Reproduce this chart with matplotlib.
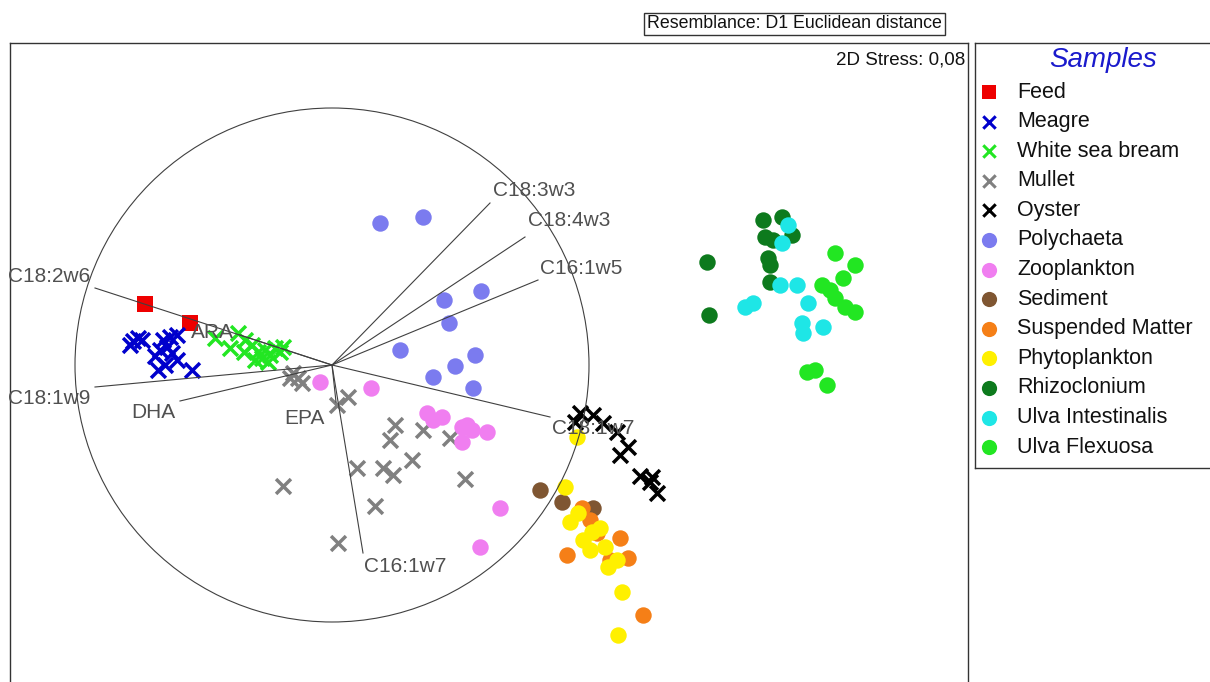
import matplotlib.pyplot as plt
from matplotlib.patches import Circle

plt.rcParams['font.family'] = ['Liberation Sans', 'DejaVu Sans']

# MDS ordination coordinates (screen units, y grows downward)
feed_x = [145, 190]
feed_y = [304, 323]
meagre_x = [133, 138, 130, 142, 163, 170, 177, 160, 167, 172, 158, 165, 177, 192, 155]
meagre_y = [341, 338, 345, 340, 340, 337, 335, 350, 347, 353, 370, 365, 360, 370, 356]
bream_x = [215, 230, 238, 245, 252, 258, 262, 265, 270, 275, 280, 283, 255, 268, 244]
bream_y = [338, 348, 333, 340, 345, 352, 358, 350, 355, 348, 352, 347, 360, 362, 352]
mullet_x = [293, 302, 298, 290, 348, 337, 395, 390, 423, 450, 357, 383, 393, 412, 465, 283, 375, 338]
mullet_y = [373, 383, 378, 378, 397, 405, 425, 440, 430, 438, 468, 468, 475, 460, 479, 486, 506, 543]
oyster_x = [580, 593, 575, 603, 617, 628, 620, 640, 652, 650, 657]
oyster_y = [413, 415, 422, 423, 432, 447, 455, 476, 477, 482, 493]
poly_x = [380, 423, 444, 481, 449, 400, 475, 455, 433, 473]
poly_y = [223, 217, 300, 291, 323, 350, 355, 366, 377, 388]
zoo_x = [320, 371, 427, 433, 442, 462, 472, 487, 462, 467, 500, 480]
zoo_y = [382, 388, 413, 420, 417, 427, 430, 432, 442, 425, 508, 547]
sed_x = [540, 562, 593]
sed_y = [490, 502, 508]
susp_x = [582, 597, 620, 628, 567, 610, 643, 590]
susp_y = [508, 533, 538, 558, 555, 560, 615, 520]
phyto_x = [577, 565, 578, 570, 583, 592, 590, 605, 608, 617, 622, 618, 600]
phyto_y = [437, 487, 513, 522, 540, 532, 550, 547, 567, 560, 592, 635, 528]
rhizo_x = [763, 782, 765, 773, 792, 768, 770, 770, 707, 709]
rhizo_y = [220, 217, 237, 240, 235, 258, 265, 282, 262, 315]
ulvai_x = [788, 782, 780, 797, 753, 745, 808, 802, 803, 823]
ulvai_y = [225, 243, 285, 285, 303, 307, 303, 323, 333, 327]
ulvaf_x = [835, 855, 843, 822, 830, 835, 845, 855, 807, 815, 827]
ulvaf_y = [253, 265, 278, 285, 290, 298, 307, 312, 372, 370, 385]

# vector overlay (end points) and labels
vec_names = ['C18:3w3', 'C18:4w3', 'C16:1w5', 'C18:2w6', 'C18:1w9', 'DHA', 'ARA', 'EPA', 'C16:1w7', 'C18:1w7']
vec_x = [490, 525, 538, 95, 95, 180, 240, 336, 363, 550]
vec_y = [203, 237, 280, 288, 387, 401, 335, 402, 553, 417]
lab_x = [493, 528, 540, 8, 8, 131, 191, 284, 364, 552]
lab_y = [190, 221, 268, 276, 398, 413, 333, 418, 566, 428]
center = (332, 365)
radius = 257

groups = [
    ('Feed', feed_x, feed_y, 's', '#ee0000'),
    ('Meagre', meagre_x, meagre_y, 'x', '#0000cc'),
    ('White sea bream', bream_x, bream_y, 'x', '#22e622'),
    ('Mullet', mullet_x, mullet_y, 'x', '#808080'),
    ('Oyster', oyster_x, oyster_y, 'x', '#000000'),
    ('Polychaeta', poly_x, poly_y, 'o', '#7b7bef'),
    ('Zooplankton', zoo_x, zoo_y, 'o', '#f07ef0'),
    ('Sediment', sed_x, sed_y, 'o', '#7f5632'),
    ('Suspended Matter', susp_x, susp_y, 'o', '#f57f17'),
    ('Phytoplankton', phyto_x, phyto_y, 'o', '#fff000'),
    ('Rhizoclonium', rhizo_x, rhizo_y, 'o', '#0d7a1d'),
    ('Ulva Intestinalis', ulvai_x, ulvai_y, 'o', '#1ee6e6'),
    ('Ulva Flexuosa', ulvaf_x, ulvaf_y, 'o', '#22e622'),
]

W, H = 1210, 682
fig = plt.figure(figsize=(W / 100, H / 100), dpi=100)
ax = fig.add_axes([10 / W, 0, 958 / W, (H - 43) / H])
ax.set_xlim(10, 968)
ax.set_ylim(682, 43)
ax.set_xticks([])
ax.set_yticks([])
for s in ['left', 'top', 'right']:
    ax.spines[s].set_color('#333333')
    ax.spines[s].set_linewidth(1)
ax.spines['bottom'].set_visible(False)

for name, xs, ys, m, c in groups:
    if m == 'x':
        ax.scatter(xs, ys, marker='x', s=115, c=c, linewidths=2.5, zorder=2)
    elif m == 's':
        ax.scatter(xs, ys, marker='s', s=135, c=c, linewidths=0, zorder=2)
    else:
        ax.scatter(xs, ys, marker='o', s=140, c=c, linewidths=0, zorder=2)

ax.add_patch(Circle(center, radius, fill=False, edgecolor='#404040', lw=0.8, zorder=3))
for name, ex, ey, tx, ty in zip(vec_names, vec_x, vec_y, lab_x, lab_y):
    ax.plot([center[0], ex], [center[1], ey], color='#404040', lw=0.8, zorder=3)
    ax.text(tx, ty, name, fontsize=15, color='#505050', ha='left', va='center',
            zorder=4, clip_on=False)

ax.text(965, 60, '2D Stress: 0,08', fontsize=13.5, ha='right', va='center', color='#111111')

# resemblance caption
fig.text(647 / W, 1 - 24 / H, 'Resemblance: D1 Euclidean distance', fontsize=12.8,
         ha='left', va='center', color='#111111',
         bbox=dict(boxstyle='square,pad=0.15', facecolor='white', edgecolor='#333333', lw=1))

# legend panel
lax = fig.add_axes([975 / W, (H - 468) / H, 240 / W, 425 / H])
lax.set_xlim(975, 1215)
lax.set_ylim(468, 43)
lax.set_xticks([])
lax.set_yticks([])
for s in lax.spines.values():
    s.set_color('#333333')
    s.set_linewidth(1)
lax.text(1103, 60, 'Samples', fontsize=20, style='italic', color='#1a1acc',
         ha='center', va='center')
for i, (name, xs, ys, m, c) in enumerate(groups):
    y = 92 + i * 29.6
    if m == 'x':
        lax.scatter([989], [y], marker='x', s=80, c=c, linewidths=2.2)
    elif m == 's':
        lax.scatter([989], [y], marker='s', s=100, c=c, linewidths=0)
    else:
        lax.scatter([989], [y], marker='o', s=120, c=c, linewidths=0)
    lax.text(1017, y, name, fontsize=15.5, ha='left', va='center', color='#111111')

fig.savefig('out.png', dpi=100)
